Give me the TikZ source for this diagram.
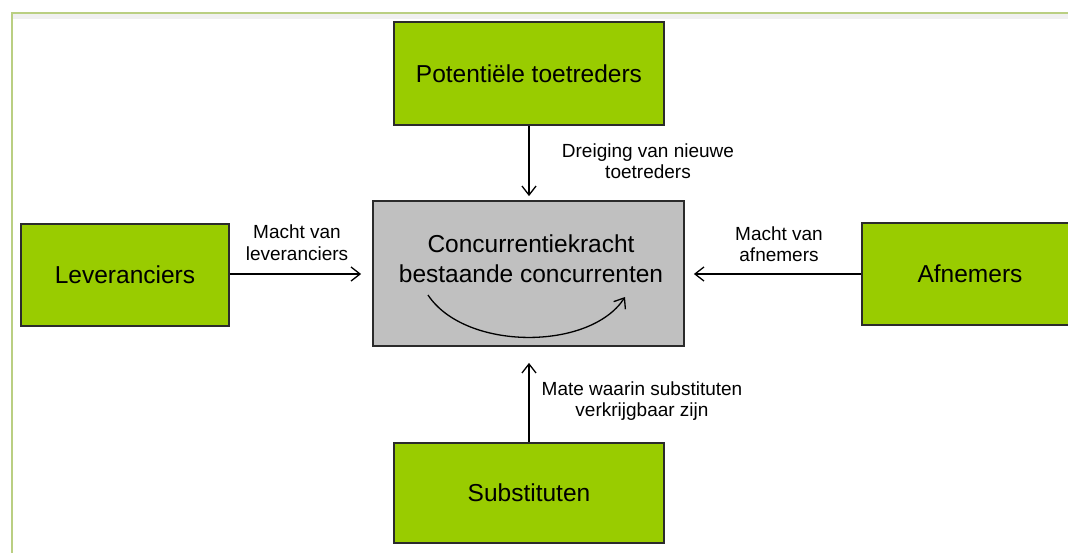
\documentclass[tikz,border=0pt]{standalone}
\usepackage{fontspec}
\setmainfont{Liberation Sans}
\usetikzlibrary{arrows.meta,calc}

\definecolor{boxgreen}{HTML}{99CC00}
\definecolor{boxgray}{HTML}{C0C0C0}
\definecolor{edge}{HTML}{2B2B2B}
\definecolor{framegreen}{HTML}{BACF82}

\tikzset{
  force/.style={draw=edge, line width=1.8pt, fill=boxgreen, text=black,
    font=\fontsize{24.5}{30}\selectfont, inner sep=0pt},
  core/.style={draw=edge, line width=1.8pt, fill=boxgray, inner sep=0pt},
  coretext/.style={align=center, text=black, font=\fontsize{24.5}{30}\selectfont},
  lbl/.style={align=center, text=black, font=\fontsize{19}{21.5}\selectfont, inner sep=0pt},
  arr/.style={draw=black, line width=1.3pt,
    -{Straight Barb[length=9pt, width=14pt, line width=1.3pt]}},
}

\begin{document}
\begin{tikzpicture}[x=1pt, y=-1pt]
  \useasboundingbox (0,0) rectangle (1068,552);
  \begin{scope}
    \clip (0,0) rectangle (1068,552);

    % outer frame with a soft shadow under its top edge
    \fill[black!6] (12.5,14) rectangle (1080,19);
    \draw[framegreen, line width=2pt] (11.5,570) -- (11.5,12.7) -- (1080,12.7);

    % the five forces
    \node[force, minimum width=270pt, minimum height=103pt] (entrants) at (529,73.5) {Potentiële toetreders};
    \node[force, minimum width=208pt, minimum height=102pt] (suppliers) at (125,275) {Leveranciers};
    \node[force, minimum width=216pt, minimum height=102pt] (buyers) at (970,274) {Afnemers};
    \node[force, minimum width=270pt, minimum height=100pt] (subst) at (529,493) {Substituten};

    % central rivalry box
    \node[core, minimum width=311pt, minimum height=145pt] (rivalry) at (528.5,273.5) {};
    \node[coretext] (rivalrytext) at (531,259) {Concurrentiekracht\\bestaande concurrenten};
    \coordinate (arcstart) at (428,295);
    \coordinate (arcend) at (625,297);
    \draw[arr] (arcstart) .. controls (465,351) and (590,351) .. (arcend);

    % connectors
    \draw[arr] (entrants.south) -- ([yshift=4pt]entrants.south |- rivalry.north);
    \draw[arr] (subst.north) -- ([yshift=-16pt]subst.north |- rivalry.south);
    \draw[arr] (suppliers.east |- 0,274) -- ([xshift=-11pt]rivalry.west |- 0,274);
    \draw[arr] (buyers.west |- 0,274) -- ([xshift=9pt]rivalry.east |- 0,274);

    % connector labels
    \node[lbl] (entrantslbl) at (648,161) {Dreiging van nieuwe\\toetreders};
    \node[lbl] (supplierslbl) at (297,242.5) {Macht van\\leveranciers};
    \node[lbl] (buyerslbl) at (779,244) {Macht van\\afnemers};
    \node[lbl] (substlbl) at (642,401) {Mate waarin substituten\\verkrijgbaar zijn};
  \end{scope}
\end{tikzpicture}
\end{document}
